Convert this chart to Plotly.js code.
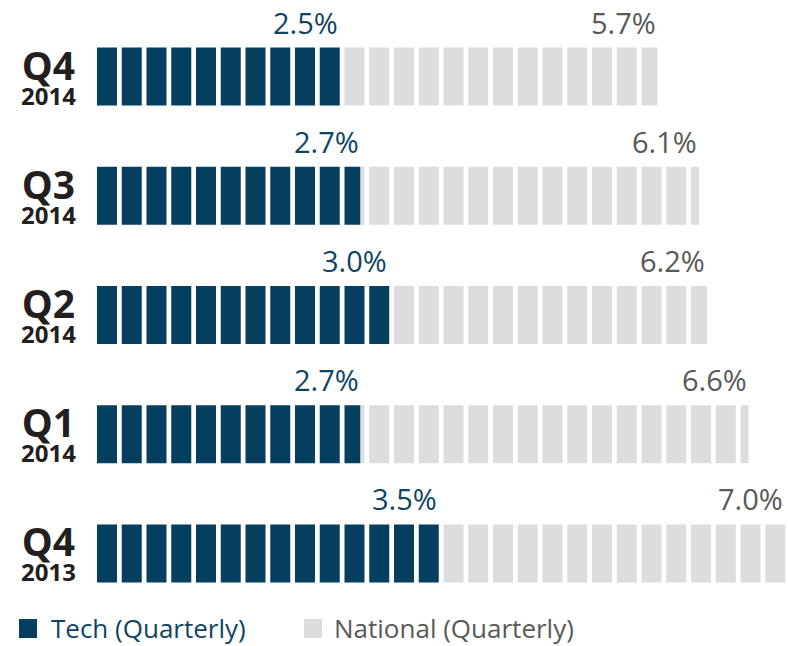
<!DOCTYPE html>
<html>
<head>
<meta charset="utf-8">
<script src="https://cdn.plot.ly/plotly-3.0.1.min.js"></script>
<style>html,body{margin:0;padding:0;background:#fff;}#chart{width:788px;height:646px;}</style>
</head>
<body>
<div id="chart"></div>
<script>
// ---- data ----
var quarters = ['Q4', 'Q3', 'Q2', 'Q1', 'Q4'];
var years = ['2014', '2014', '2014', '2014', '2013'];
var tech = [2.5, 2.7, 3.0, 2.7, 3.5];
var national = [5.7, 6.1, 6.2, 6.6, 7.0];
var seriesNames = ['Tech (Quarterly)', 'National (Quarterly)'];
var blockUnit = 0.25; // each block = 0.25 percentage points

// ---- style ----
var darkColor = '#043F60';
var grayColor = '#DCDDDF';
var techText = '#0E4565';
var natText = '#595959';
var fillFrac = 20 / 24.75;
var barThick = 58 / 119.2;
var FONT = 'Open Sans, Noto Sans, sans-serif';

var nRows = quarters.length;
function rowY(i) { return nRows - 1 - i; }
function clamp01(v) { return Math.max(0, Math.min(1, v)); }

var dY = [], dX = [], dBase = [], gY = [], gX = [], gBase = [];
var annotations = [];
function endOf(v) {
  var n = v / blockUnit;
  var k = Math.ceil(n - 1e-9) - 1;
  return k * blockUnit + (n - k) * blockUnit * fillFrac;
}
for (var i = 0; i < nRows; i++) {
  var nb = Math.ceil(national[i] / blockUnit - 1e-9);
  for (var k = 0; k < nb; k++) {
    var s = k * blockUnit;
    var dl = clamp01((tech[i] - s) / blockUnit) * blockUnit * fillFrac;
    var tl = clamp01((national[i] - s) / blockUnit) * blockUnit * fillFrac;
    if (dl > 1e-9) { dY.push(rowY(i)); dX.push(dl); dBase.push(s); }
    if (tl - dl > 1e-9) { gY.push(rowY(i)); gX.push(tl - dl); gBase.push(s + dl); }
  }
  annotations.push({x: endOf(tech[i]), y: rowY(i) + barThick / 2, xref: 'x', yref: 'y',
    text: tech[i].toFixed(1) + '%', showarrow: false, xanchor: 'right', yanchor: 'bottom', yshift: 4,
    font: {family: FONT, size: 29, color: techText}});
  annotations.push({x: endOf(national[i]), y: rowY(i) + barThick / 2, xref: 'x', yref: 'y',
    text: national[i].toFixed(1) + '%', showarrow: false, xanchor: 'right', yanchor: 'bottom', yshift: 4,
    font: {family: FONT, size: 29, color: natText}});
  annotations.push({x: 0, y: rowY(i), xref: 'paper', yref: 'y', xshift: -49, yshift: 2,
    text: '<b><span style="font-size:39px">' + quarters[i] + '</span><br><span style="font-size:24px">' + years[i] + '</span></b>',
    showarrow: false, xanchor: 'center', yanchor: 'middle', align: 'center',
    font: {family: FONT, size: 19, color: '#231F20'}});
}

// legend text
annotations.push({x: 0, y: 0, xref: 'paper', yref: 'paper', xshift: -48, yshift: -15,
  text: seriesNames[0], showarrow: false, xanchor: 'left', yanchor: 'middle',
  font: {family: FONT, size: 26, color: techText}});
annotations.push({x: 0, y: 0, xref: 'paper', yref: 'paper', xshift: 235, yshift: -15,
  text: seriesNames[1], showarrow: false, xanchor: 'left', yanchor: 'middle',
  font: {family: FONT, size: 26, color: natText}});

var shapes = [
  {type: 'rect', xref: 'paper', yref: 'paper', xsizemode: 'pixel', ysizemode: 'pixel',
   xanchor: 0, yanchor: 0, x0: -78, x1: -60, y0: -25, y1: -6, fillcolor: darkColor, line: {width: 0}},
  {type: 'rect', xref: 'paper', yref: 'paper', xsizemode: 'pixel', ysizemode: 'pixel',
   xanchor: 0, yanchor: 0, x0: 207, x1: 225, y0: -25, y1: -6, fillcolor: grayColor, line: {width: 0}}
];

var traces = [
  {type: 'bar', orientation: 'h', name: seriesNames[0], y: dY, x: dX, base: dBase, width: barThick,
   marker: {color: darkColor, line: {width: 0}}, hoverinfo: 'skip', showlegend: false},
  {type: 'bar', orientation: 'h', name: seriesNames[1], y: gY, x: gX, base: gBase, width: barThick,
   marker: {color: grayColor, line: {width: 0}}, hoverinfo: 'skip', showlegend: false}
];

var layout = {
  width: 788, height: 646,
  margin: {l: 97, r: 0, t: 17, b: 33, pad: 0},
  paper_bgcolor: '#ffffff', plot_bgcolor: '#ffffff',
  barmode: 'overlay',
  showlegend: false,
  xaxis: {range: [0, 691 / 99], visible: false, fixedrange: true},
  yaxis: {range: [-0.5, nRows - 0.5], visible: false, fixedrange: true},
  annotations: annotations,
  shapes: shapes
};

Plotly.newPlot('chart', traces, layout, {staticPlot: true});
</script>
</body>
</html>
